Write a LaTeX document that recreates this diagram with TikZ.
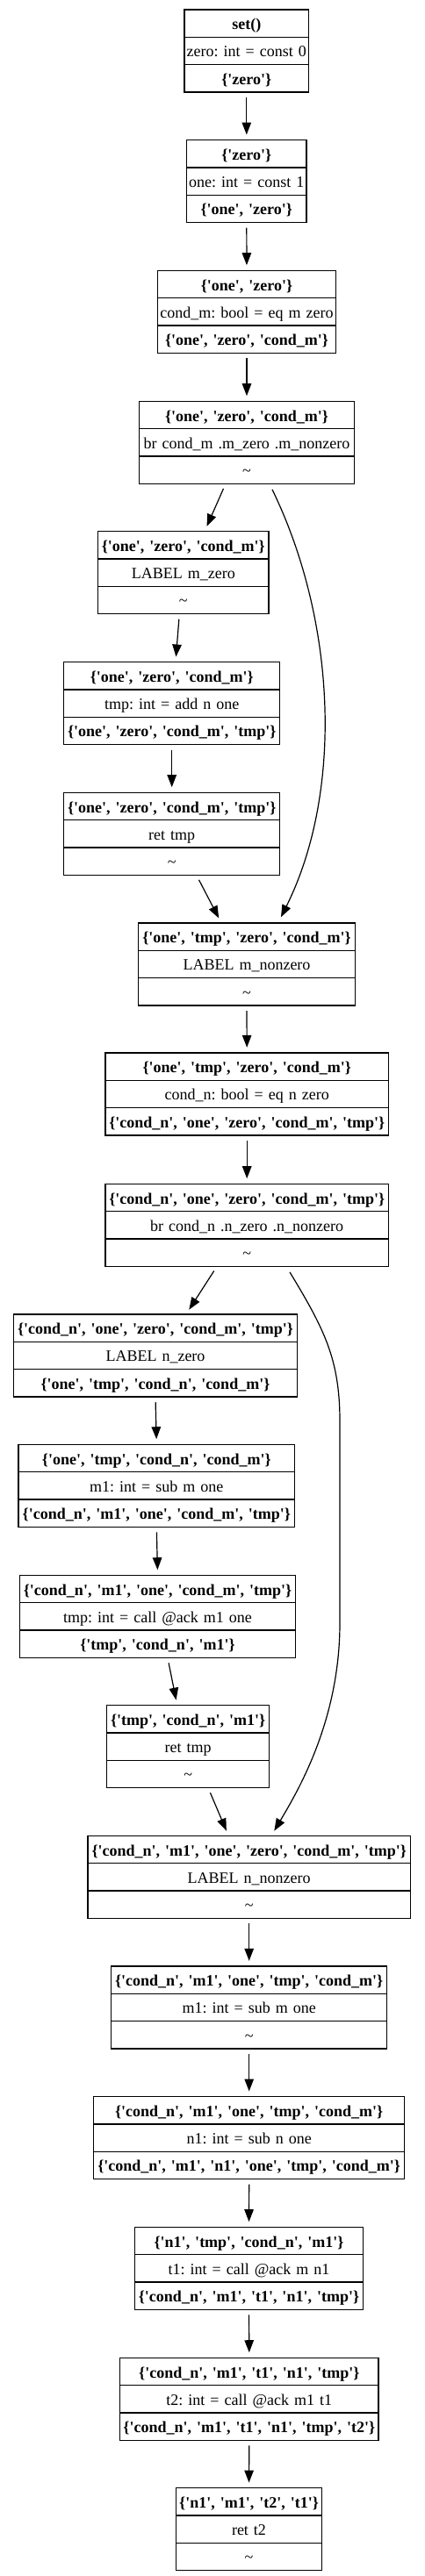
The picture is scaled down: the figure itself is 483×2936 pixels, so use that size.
\documentclass[tikz,border=0pt]{standalone}
\usepackage{fontspec}
\newfontfamily\gvfont{Liberation Serif}
\usetikzlibrary{shapes.multipart,arrows.meta,calc}
\newcommand{\gvstrut}{\rule[-8pt]{0pt}{30pt}}
\frenchspacing
\begin{document}
\begin{tikzpicture}[x=1pt,y=-1pt,
  rec/.style={rectangle split, rectangle split parts=3, draw=black, line width=1.3pt,
    inner xsep=0pt, inner ysep=0pt, align=center, anchor=north,
    font=\gvfont\fontsize{18pt}{22pt}\selectfont\frenchspacing},
  tip/.style={-{Triangle[length=14pt,width=10.5pt]}, line width=1.2pt},
  edge/.style={tip, shorten <=5.5pt, shorten >=5.5pt}]
\useasboundingbox (0,0) rectangle (483,2936);

\node[rec, text width=141.7pt] (n1) at (280.8,10.3)
  {\gvstrut\textbf{set()}\nodepart{two}\gvstrut zero: int = const 0\nodepart{three}\gvstrut\textbf{\{'zero'\}}};
\node[rec, text width=136.3pt] (n2) at (280.8,159)
  {\gvstrut\textbf{\{'zero'\}}\nodepart{two}\gvstrut one: int = const 1\nodepart{three}\gvstrut\textbf{\{'one', 'zero'\}}};
\node[rec, text width=203.4pt] (n3) at (281,307.7)
  {\gvstrut\textbf{\{'one', 'zero'\}}\nodepart{two}\gvstrut cond\_m: bool = eq m zero\nodepart{three}\gvstrut\textbf{\{'one', 'zero', 'cond\_m'\}}};
\node[rec, text width=244.6pt] (n4) at (281,456.7)
  {\gvstrut\textbf{\{'one', 'zero', 'cond\_m'\}}\nodepart{two}\gvstrut br cond\_m .m\_zero .m\_nonzero\nodepart{three}\gvstrut\textasciitilde};
\node[rec, text width=194.3pt] (n5) at (208.8,605)
  {\gvstrut\textbf{\{'one', 'zero', 'cond\_m'\}}\nodepart{two}\gvstrut LABEL m\_zero\nodepart{three}\gvstrut\textasciitilde};
\node[rec, text width=246pt] (n6) at (195.7,754)
  {\gvstrut\textbf{\{'one', 'zero', 'cond\_m'\}}\nodepart{two}\gvstrut tmp: int = add n one\nodepart{three}\gvstrut\textbf{\{'one', 'zero', 'cond\_m', 'tmp'\}}};
\node[rec, text width=246pt] (n7) at (195.7,902.7)
  {\gvstrut\textbf{\{'one', 'zero', 'cond\_m', 'tmp'\}}\nodepart{two}\gvstrut ret tmp\nodepart{three}\gvstrut\textasciitilde};
\node[rec, text width=246.6pt] (n8) at (281,1051.3)
  {\gvstrut\textbf{\{'one', 'tmp', 'zero', 'cond\_m'\}}\nodepart{two}\gvstrut LABEL m\_nonzero\nodepart{three}\gvstrut\textasciitilde};
\node[rec, text width=322.3pt] (n9) at (281.2,1199.3)
  {\gvstrut\textbf{\{'one', 'tmp', 'zero', 'cond\_m'\}}\nodepart{two}\gvstrut cond\_n: bool = eq n zero\nodepart{three}\gvstrut\textbf{\{'cond\_n', 'one', 'zero', 'cond\_m', 'tmp'\}}};
\node[rec, text width=322.3pt] (n10) at (281.2,1348.7)
  {\gvstrut\textbf{\{'cond\_n', 'one', 'zero', 'cond\_m', 'tmp'\}}\nodepart{two}\gvstrut br cond\_n .n\_zero .n\_nonzero\nodepart{three}\gvstrut\textasciitilde};
\node[rec, text width=322.6pt] (n11) at (177,1497.3)
  {\gvstrut\textbf{\{'cond\_n', 'one', 'zero', 'cond\_m', 'tmp'\}}\nodepart{two}\gvstrut LABEL n\_zero\nodepart{three}\gvstrut\textbf{\{'one', 'tmp', 'cond\_n', 'cond\_m'\}}};
\node[rec, text width=314.7pt] (n12) at (178.3,1645.7)
  {\gvstrut\textbf{\{'one', 'tmp', 'cond\_n', 'cond\_m'\}}\nodepart{two}\gvstrut m1: int = sub m one\nodepart{three}\gvstrut\textbf{\{'cond\_n', 'm1', 'one', 'cond\_m', 'tmp'\}}};
\node[rec, text width=314.4pt] (n13) at (179.5,1794.7)
  {\gvstrut\textbf{\{'cond\_n', 'm1', 'one', 'cond\_m', 'tmp'\}}\nodepart{two}\gvstrut tmp: int = call @ack m1 one\nodepart{three}\gvstrut\textbf{\{'tmp', 'cond\_n', 'm1'\}}};
\node[rec, text width=185pt] (n14) at (214.2,1943)
  {\gvstrut\textbf{\{'tmp', 'cond\_n', 'm1'\}}\nodepart{two}\gvstrut ret tmp\nodepart{three}\gvstrut\textasciitilde};
\node[rec, text width=367.3pt] (n15) at (283.7,2091.7)
  {\gvstrut\textbf{\{'cond\_n', 'm1', 'one', 'zero', 'cond\_m', 'tmp'\}}\nodepart{two}\gvstrut LABEL n\_nonzero\nodepart{three}\gvstrut\textasciitilde};
\node[rec, text width=314pt] (n16) at (283.7,2240.3)
  {\gvstrut\textbf{\{'cond\_n', 'm1', 'one', 'tmp', 'cond\_m'\}}\nodepart{two}\gvstrut m1: int = sub m one\nodepart{three}\gvstrut\textasciitilde};
\node[rec, text width=354pt] (n17) at (283.7,2389)
  {\gvstrut\textbf{\{'cond\_n', 'm1', 'one', 'tmp', 'cond\_m'\}}\nodepart{two}\gvstrut n1: int = sub n one\nodepart{three}\gvstrut\textbf{\{'cond\_n', 'm1', 'n1', 'one', 'tmp', 'cond\_m'\}}};
\node[rec, text width=259.6pt] (n18) at (283.5,2537.7)
  {\gvstrut\textbf{\{'n1', 'tmp', 'cond\_n', 'm1'\}}\nodepart{two}\gvstrut t1: int = call @ack m n1\nodepart{three}\gvstrut\textbf{\{'cond\_n', 'm1', 't1', 'n1', 'tmp'\}}};
\node[rec, text width=294.3pt] (n19) at (283.8,2686.7)
  {\gvstrut\textbf{\{'cond\_n', 'm1', 't1', 'n1', 'tmp'\}}\nodepart{two}\gvstrut t2: int = call @ack m1 t1\nodepart{three}\gvstrut\textbf{\{'cond\_n', 'm1', 't1', 'n1', 'tmp', 't2'\}}};
\node[rec, text width=166.4pt] (n20) at (283.5,2835)
  {\gvstrut\textbf{\{'n1', 'm1', 't2', 't1'\}}\nodepart{two}\gvstrut ret t2\nodepart{three}\gvstrut\textasciitilde};

\draw[edge] (n1.south) -- (n2.north);
\draw[edge] (n2.south) -- (n3.north);
\draw[edge] (n3.south) -- (n4.north);
\draw[edge] ($(n4.south)+(-24.3,0)$) -- ($(n5.north)+(24.5,0)$);
\draw[edge] ($(n5.south)+(-4.5,0)$) -- ($(n6.north)+(4.3,0)$);
\draw[tip] ($(n4.south)+(29,6)$) .. controls +(72,148) and +(72,-145) .. ($(n8.north)+(39,-6)$);
\draw[edge] (n6.south) -- (n7.north);
\draw[edge] ($(n7.south)+(28.3,0)$) -- ($(n8.north)+(-29.3,0)$);
\draw[edge] (n8.south) -- (n9.north);
\draw[edge] (n9.south) -- (n10.north);
\draw[edge] ($(n10.south)+(-34.5,0)$) -- ($(n11.north)+(35.3,0)$);
\draw[tip] ($(n10.south)+(48.8,6)$) .. controls +(40,66) and (387,1550) .. (387,1620)
  -- (387,1850) .. controls (387,1960) and (340,2040) .. ($(n15.north)+(28.6,-5)$);
\draw[edge] (n11.south) -- (n12.north);
\draw[edge] (n12.south) -- (n13.north);
\draw[edge] ($(n13.south)+(11.5,0)$) -- ($(n14.north)+(-12.5,0)$);
\draw[edge] ($(n14.south)+(23.1,0)$) -- ($(n15.north)+(-23.7,0)$);
\draw[edge] (n15.south) -- (n16.north);
\draw[edge] (n16.south) -- (n17.north);
\draw[edge] (n17.south) -- (n18.north);
\draw[edge] (n18.south) -- (n19.north);
\draw[edge] (n19.south) -- (n20.north);
\end{tikzpicture}
\end{document}
